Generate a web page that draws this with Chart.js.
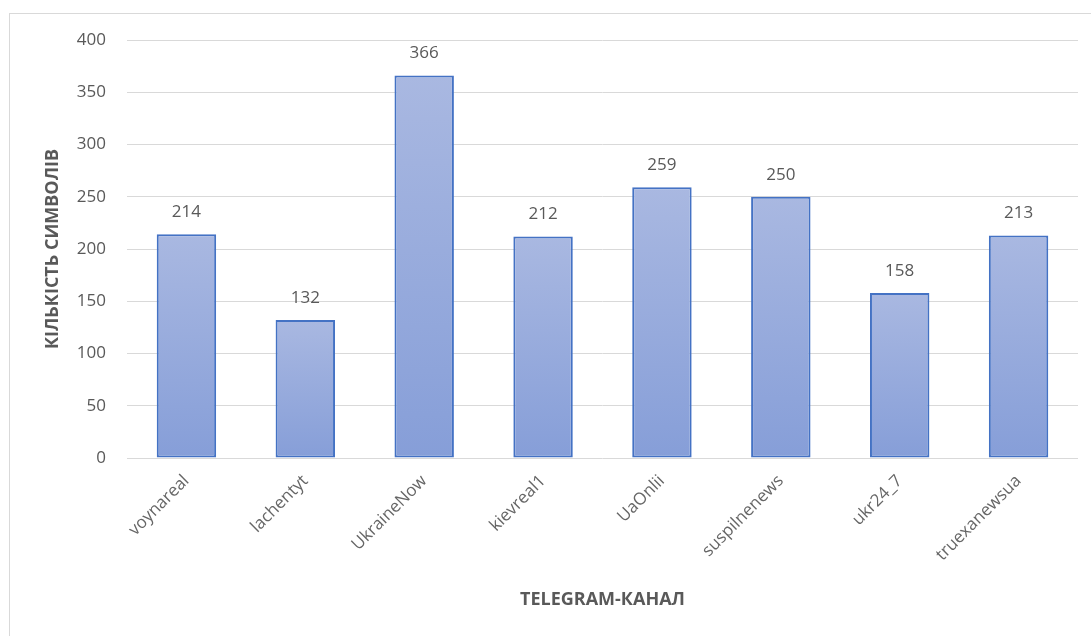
<!DOCTYPE html>
<html>
<head>
<meta charset="utf-8">
<script src="https://cdn.jsdelivr.net/npm/chart.js@4"></script>
<style>
  html, body { margin: 0; padding: 0; background: #ffffff; }
  #wrap { width: 1091px; height: 636px; position: relative; }
</style>
</head>
<body>
<div id="wrap"><canvas id="chart" width="1091" height="636"></canvas></div>
<script>
// データ
const channels = ['voynareal', 'lachentyt', 'UkraineNow', 'kievreal1', 'UaOnlii', 'suspilnenews', 'ukr24_7', 'truexanewsua'];
const symbolCounts = [214, 132, 366, 212, 259, 250, 158, 213];
const yTicks = [0, 50, 100, 150, 200, 250, 300, 350, 400];

const textColor = '#595959';
const fontFamily = "'Open Sans', sans-serif";

// 棒ごとのグラデーション
function barGradient(context) {
  const chart = context.chart;
  if (!chart.chartArea) return '#98abdc';
  const y = chart.scales.y;
  const top = y.getPixelForValue(context.raw);
  const bottom = y.getPixelForValue(0);
  const g = chart.ctx.createLinearGradient(0, top, 0, bottom);
  g.addColorStop(0, '#a9b8e1');
  g.addColorStop(1, '#869ed8');
  return g;
}

// 外枠
const frame = {
  id: 'frame',
  beforeDraw(chart) {
    const c = chart.ctx;
    c.save();
    c.strokeStyle = '#d9d9d9';
    c.lineWidth = 1;
    c.strokeRect(9.5, 13.5, 1100, 700);
    c.restore();
  }
};

// 値ラベル
const valueLabels = {
  id: 'valueLabels',
  afterDatasetsDraw(chart) {
    const c = chart.ctx;
    const meta = chart.getDatasetMeta(0);
    c.save();
    c.fillStyle = textColor;
    c.font = '17px ' + fontFamily;
    c.textAlign = 'center';
    c.textBaseline = 'middle';
    meta.data.forEach(function (bar, i) {
      c.fillText(String(symbolCounts[i]), bar.x, bar.y - 22);
    });
    c.restore();
  }
};

new Chart(document.getElementById('chart'), {
  type: 'bar',
  data: {
    labels: channels,
    datasets: [{
      data: symbolCounts,
      backgroundColor: barGradient,
      borderColor: '#4472c4',
      borderWidth: 2,
      borderSkipped: false,
      categoryPercentage: 1,
      barPercentage: 0.5
    }]
  },
  options: {
    responsive: false,
    animation: false,
    layout: { padding: { top: 40, right: 13, bottom: 0, left: 0 } },
    plugins: {
      legend: { display: false },
      tooltip: { enabled: false }
    },
    scales: {
      x: {
        grid: { display: false, drawTicks: false },
        border: { display: false },
        ticks: {
          color: '#666666',
          font: { family: fontFamily, size: 17 },
          minRotation: 45,
          maxRotation: 45,
          autoSkip: false,
          padding: 13
        },
        title: {
          display: true,
          text: 'TELEGRAM-КАНАЛ',
          color: textColor,
          font: { family: fontFamily, size: 18, weight: 'bold' },
          padding: { top: 0, bottom: 25 }
        },
        afterFit(scale) { scale.height = 636 - 458; }
      },
      y: {
        min: 0,
        max: 400,
        afterBuildTicks(scale) { scale.ticks = yTicks.map(v => ({ value: v })); },
        grid: { color: '#d9d9d9', drawTicks: false },
        border: { display: false },
        ticks: {
          color: textColor,
          font: { family: fontFamily, size: 17 },
          padding: 21
        },
        title: {
          display: true,
          text: 'КІЛЬКІСТЬ СИМВОЛІВ',
          color: textColor,
          font: { family: fontFamily, size: 18, weight: 'bold' },
          padding: { top: 42, bottom: 0 }
        },
        afterFit(scale) { scale.width = 127; }
      }
    }
  },
  plugins: [frame, valueLabels]
});
</script>
</body>
</html>
